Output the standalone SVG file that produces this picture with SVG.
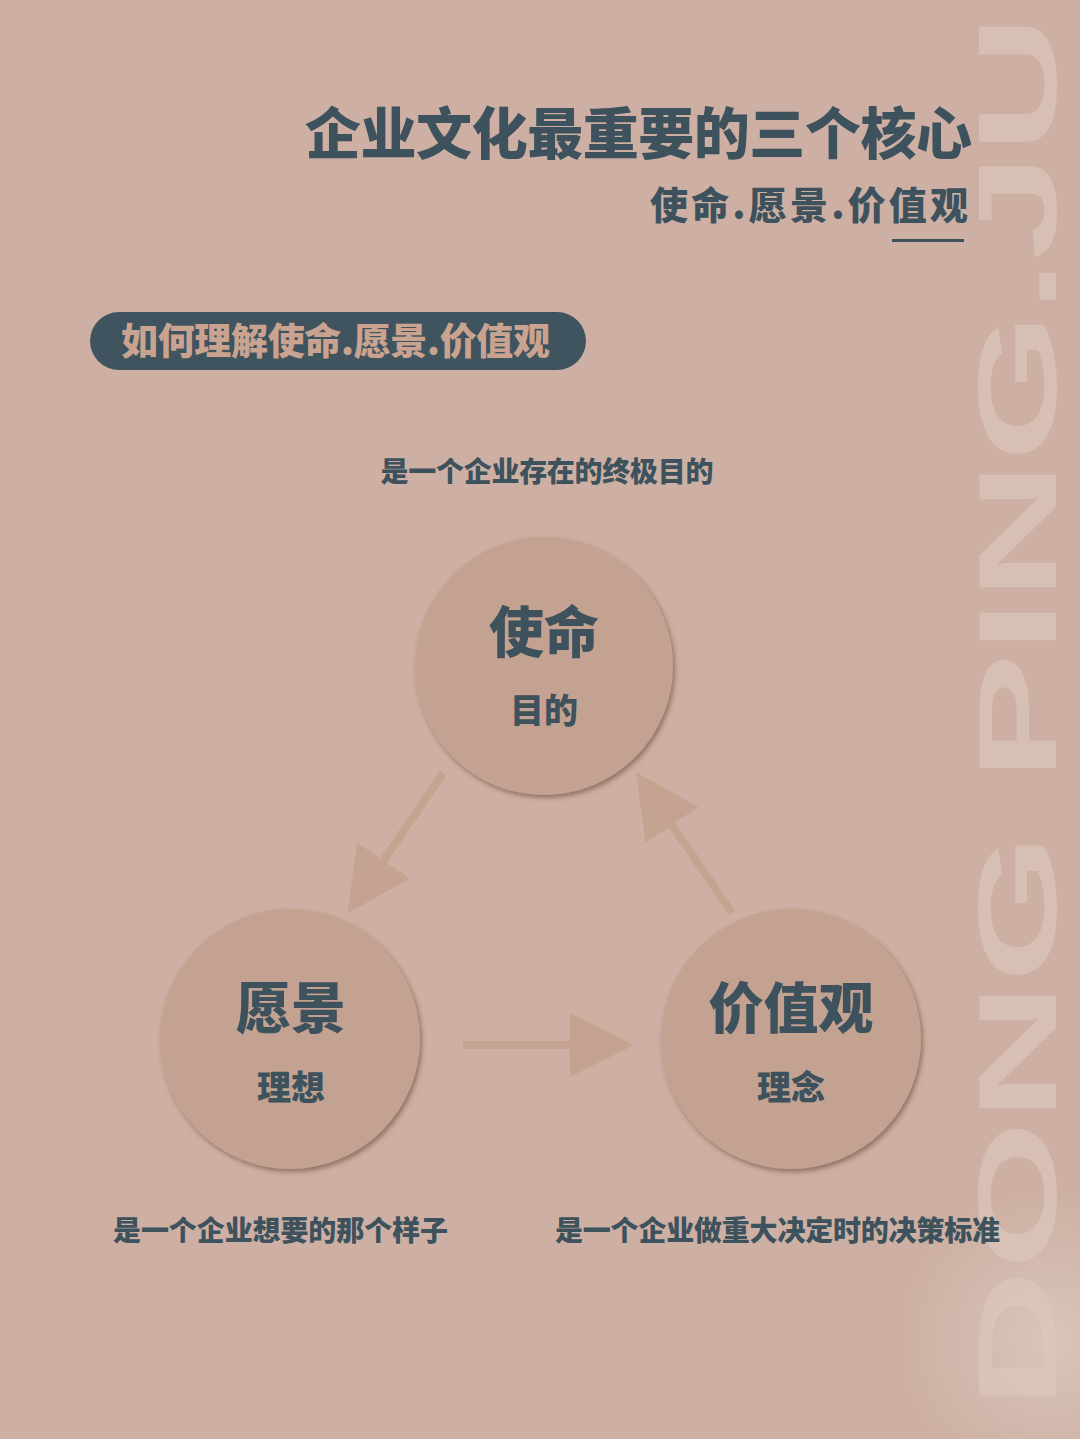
<svg xmlns="http://www.w3.org/2000/svg" width="1080" height="1439" viewBox="0 0 1080 1439">
<defs>
<style>
.cjk{font-family:"Noto Sans CJK SC","Noto Sans CJK TC",sans-serif;font-weight:900;fill:#3d525c}
.node circle{fill:#c4a291;filter:url(#sh)}
.conn line{stroke:#c5a391;stroke-width:8}
</style>
<filter id="sh" x="-20%" y="-20%" width="140%" height="140%">
<feDropShadow dx="2" dy="3" stdDeviation="2.5" flood-color="#5e4034" flood-opacity="0.55"/>
</filter>
<radialGradient id="glow" cx="1050" cy="1340" r="150" gradientUnits="userSpaceOnUse">
<stop offset="0" stop-color="#ffffff" stop-opacity="0.25"/>
<stop offset="1" stop-color="#ffffff" stop-opacity="0"/>
</radialGradient>
<marker id="ah" markerUnits="userSpaceOnUse" markerWidth="64" markerHeight="64" viewBox="0 0 62 62" refX="0" refY="31" orient="auto">
<path d="M0,0 L62,31 L0,62 Z" fill="#c5a391"/>
</marker>
</defs>
<rect width="1080" height="1439" fill="#cdb0a3"/>
<rect width="1080" height="1439" fill="url(#glow)"/>
<text transform="translate(1056,1408) rotate(-90)" font-family="Liberation Sans,sans-serif" font-weight="700" font-size="112" fill="#dcc7bc" fill-opacity="0.65" textLength="1393" lengthAdjust="spacingAndGlyphs">DONG PING.JU</text>

<g id="title">
<text class="cjk" x="972" y="154" font-size="56" text-anchor="end" textLength="667">企业文化最重要的三个核心</text>
<text class="cjk" x="968" y="219" font-size="38" text-anchor="end" textLength="318">使命.愿景.价值观</text>
<rect x="892" y="239" width="72" height="3" fill="#3d525c"/>
</g>

<g id="pill">
<rect x="90" y="312" width="496" height="58" rx="29" fill="#3f545e"/>
<text class="cjk" x="121" y="355" font-size="37" style="fill:#c9a38f" textLength="429">如何理解使命.愿景.价值观</text>
</g>

<g id="conn" class="conn">
<line x1="443" y1="773" x2="383.5" y2="860.5" marker-end="url(#ah)"/>
<line x1="732" y1="913" x2="672" y2="825" marker-end="url(#ah)"/>
<line x1="463" y1="1045" x2="570" y2="1045" marker-end="url(#ah)"/>
</g>

<g id="node-mission" class="node">
<circle cx="544" cy="666" r="129"/>
<text class="cjk" x="544" y="652" font-size="55" text-anchor="middle">使命</text>
<text class="cjk" x="544" y="723" font-size="34" text-anchor="middle">目的</text>
</g>
<g id="node-vision" class="node">
<circle cx="290" cy="1039" r="130"/>
<text class="cjk" x="291" y="1028" font-size="55" text-anchor="middle">愿景</text>
<text class="cjk" x="291" y="1100" font-size="34" text-anchor="middle">理想</text>
</g>
<g id="node-values" class="node">
<circle cx="791" cy="1039" r="130"/>
<text class="cjk" x="791" y="1028" font-size="55" text-anchor="middle">价值观</text>
<text class="cjk" x="791" y="1100" font-size="34" text-anchor="middle">理念</text>
</g>

<g id="captions">
<text class="cjk" x="547" y="482" font-size="28" text-anchor="middle" textLength="333">是一个企业存在的终极目的</text>
<text class="cjk" x="113" y="1241" font-size="28" textLength="335">是一个企业想要的那个样子</text>
<text class="cjk" x="555" y="1241" font-size="28" textLength="445">是一个企业做重大决定时的决策标准</text>
</g>
</svg>
